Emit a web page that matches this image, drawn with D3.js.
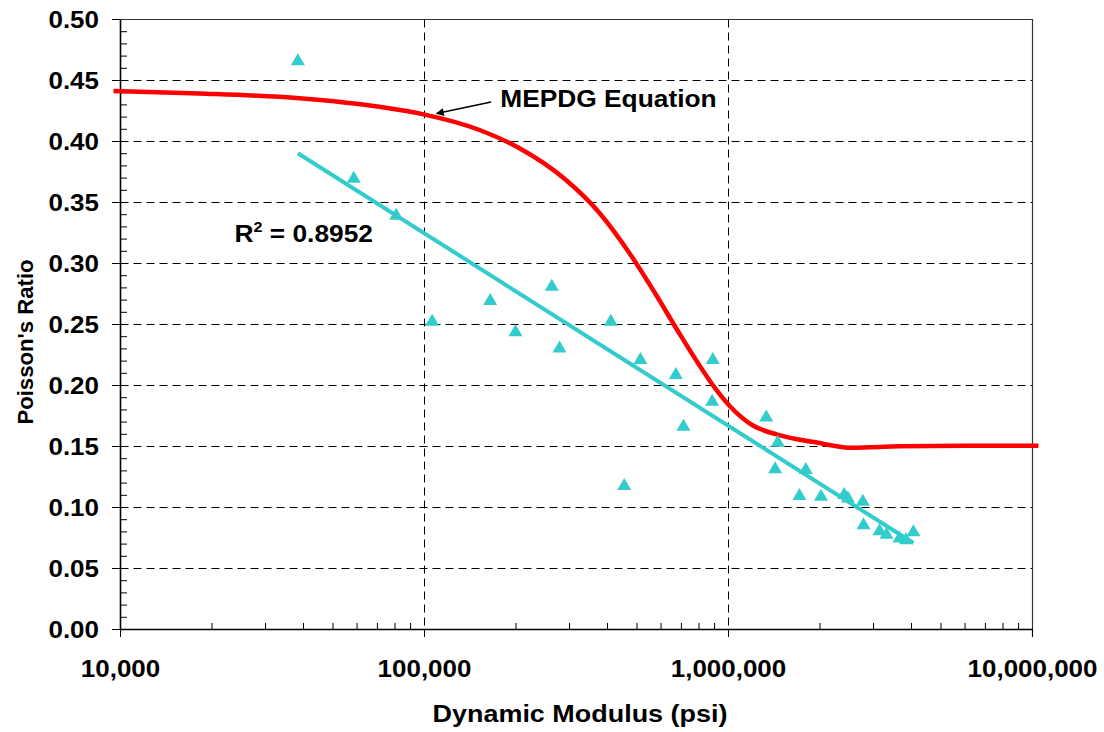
<!DOCTYPE html>
<html>
<head>
<meta charset="utf-8">
<script src="https://cdn.jsdelivr.net/npm/d3@7"></script>
<style>
  body { margin: 0; background: #fff; }
  svg { display: block; }
  text { font-family: "Liberation Sans", Arial, Helvetica, sans-serif; font-weight: bold; fill: #000; }
</style>
</head>
<body>
<svg id="chart" width="1104" height="732"></svg>
<script>
// Measured dynamic modulus (psi) and Poisson's ratio
const measuredModulus = [38460, 58750, 81000, 106400, 165100, 200000, 263300, 279100, 411600, 455700,
  515200, 673500, 714000, 891000, 887000, 1336000, 1458000, 1429000, 1803000, 1718000,
  2023000, 2410000, 2480000, 2776000, 2791000, 3150000, 3322000, 3665000, 3851000, 4074000];
const measuredPoisson = [0.467, 0.3706, 0.3404, 0.2535, 0.2705, 0.2448, 0.2822, 0.2316, 0.2535, 0.1188,
  0.2221, 0.2098, 0.1675, 0.2221, 0.188, 0.1751, 0.1543, 0.1325, 0.132, 0.1107,
  0.1101, 0.1115, 0.1087, 0.106, 0.0867, 0.0818, 0.0789, 0.0759, 0.0744, 0.081];

// MEPDG relationship between modulus and Poisson's ratio
const mepdgModulus = [9520, 18260, 38960, 71400, 98860, 152300, 206200, 289900, 377800, 474300,
  573100, 692600, 806000, 902800, 1011000, 1204000, 1444000, 1940000, 2568000, 3665000,
  6042000, 10500000];
const mepdgPoisson = [0.441, 0.439, 0.435, 0.428, 0.422, 0.409, 0.394, 0.369, 0.341, 0.308,
  0.276, 0.242, 0.216, 0.198, 0.183, 0.167, 0.1595, 0.153, 0.1485, 0.1497,
  0.1502, 0.1502];

// Logarithmic trend line through the measured points
const trendModulus = [38460, 4074000];
const trendPoisson = [0.390, 0.0705];
const rSquared = "0.8952";

// Axis ticks
const xTickValues = [1e4, 1e5, 1e6, 1e7];
const yTickValues = [0, 0.05, 0.10, 0.15, 0.20, 0.25, 0.30, 0.35, 0.40, 0.45, 0.50];

// Annotation anchors in data units [modulus, ratio]
const arrowTail = [166300, 0.432];
const arrowTip = [110000, 0.4225];
const mepdgLabelAt = [178100, 0.428];
const rSquaredLabelAt = [23800, 0.3175];

const svg = d3.select("#chart");
const X0 = 120, X1 = 1032, Y0 = 629, Y1 = 19;
const x = d3.scaleLog().domain([1e4, 1e7]).range([X0, X1]);
const y = d3.scaleLinear().domain([0, 0.5]).range([Y0, Y1]);

const TEAL = "#33CCCC", RED = "#FF0000";

// Dashed grid
const grid = svg.append("g").attr("stroke", "#000").attr("stroke-width", 1)
  .attr("stroke-dasharray", "8,5").attr("fill", "none");
grid.selectAll("line.h").data(yTickValues.filter(v => v > 0 && v < 0.5)).join("line")
  .attr("x1", X0 + 0.5).attr("x2", X1 + 0.5)
  .attr("y1", d => Math.round(y(d)) + 0.5).attr("y2", d => Math.round(y(d)) + 0.5);
grid.selectAll("line.v").data(xTickValues.filter(v => v > 1e4 && v < 1e7)).join("line")
  .attr("y1", Y1 + 0.5).attr("y2", Y0 + 0.5)
  .attr("x1", d => Math.round(x(d)) + 0.5).attr("x2", d => Math.round(x(d)) + 0.5);

// Plot frame (top and right)
svg.append("path")
  .attr("d", `M${X0 + 0.5},${Y1 + 0.5}H${X1 + 0.5}V${Y0 + 0.5}`)
  .attr("fill", "none").attr("stroke", "#333").attr("stroke-width", 1.2);
svg.append("line").attr("x1", X1 + 0.5).attr("x2", X1 + 0.5).attr("y1", Y0).attr("y2", Y0 + 8)
  .attr("stroke", "#333").attr("stroke-width", 1.2);

// Minor ticks (inside)
const yMinor = d3.range(1, 50).map(i => i / 100).filter(v => Math.abs(v * 20 - Math.round(v * 20)) > 1e-6);
svg.append("g").attr("transform", `translate(${X0},0)`)
  .call(d3.axisRight(y).tickValues(yMinor).tickSize(7).tickSizeOuter(0).tickFormat(""))
  .call(g => g.select(".domain").remove())
  .call(g => g.selectAll("line").attr("stroke", "#000"));

const xMinor = [];
[1e4, 1e5, 1e6].forEach(d => { for (let k = 2; k <= 9; k++) xMinor.push(d * k); });
svg.append("g").attr("transform", `translate(0,${Y0})`)
  .call(d3.axisTop(x).tickValues(xMinor).tickSize(6).tickSizeOuter(0).tickFormat(""))
  .call(g => g.select(".domain").remove())
  .call(g => g.selectAll("line").attr("stroke", "#000"));

// Y axis
svg.append("g").attr("transform", `translate(${X0},0)`)
  .call(d3.axisLeft(y).tickValues(yTickValues).tickSize(8).tickSizeOuter(0).tickFormat(d3.format(".2f")))
  .call(g => g.select(".domain").attr("stroke", "#000").attr("stroke-width", 1.6))
  .call(g => g.selectAll("line").attr("stroke", "#000"))
  .call(g => g.selectAll("text")
    .attr("x", null).attr("dy", null)
    .attr("transform", "translate(-21,8.8) scale(1.06,1)")
    .attr("text-anchor", "end")
    .style("font-size", "24.5px"));

// X axis
svg.append("g").attr("transform", `translate(0,${Y0})`)
  .call(d3.axisBottom(x).tickValues(xTickValues).tickSize(8).tickSizeOuter(0).tickFormat(d3.format(",")))
  .call(g => g.select(".domain").attr("stroke", "#000").attr("stroke-width", 1.6))
  .call(g => g.selectAll("line").attr("stroke", "#000"))
  .call(g => g.selectAll("text")
    .attr("y", null).attr("dy", null)
    .attr("transform", "translate(0,48) scale(1.06,1)")
    .attr("text-anchor", "middle")
    .style("font-size", "24.5px"));

// Axis titles
svg.append("text")
  .attr("transform", `translate(${(X0 + X1) / 2 + 4},722) scale(1.1,1)`)
  .attr("text-anchor", "middle").style("font-size", "24.5px")
  .text("Dynamic Modulus (psi)");
svg.append("text")
  .attr("transform", `translate(33,342) rotate(-90) scale(1.03,1)`)
  .attr("text-anchor", "middle").style("font-size", "21.5px")
  .text("Poisson's Ratio");

// MEPDG curve
const line = d3.line().curve(d3.curveMonotoneX);
svg.append("path")
  .attr("d", line(mepdgModulus.map((m, i) => [x(m), y(mepdgPoisson[i])])))
  .attr("fill", "none").attr("stroke", RED).attr("stroke-width", 4.5)
  .attr("stroke-linejoin", "round");

// Trend line
svg.append("path")
  .attr("d", d3.line()(trendModulus.map((m, i) => [x(m), y(trendPoisson[i])])))
  .attr("fill", "none").attr("stroke", TEAL).attr("stroke-width", 4);

// Measured points (triangles)
const tri = "M0,-6L7,6L-7,6Z";
svg.append("g").selectAll("path").data(measuredModulus.map((m, i) => [m, measuredPoisson[i]])).join("path")
  .attr("d", tri)
  .attr("transform", d => `translate(${x(d[0])},${y(d[1])})`)
  .attr("fill", TEAL);

// Annotations
const defs = svg.append("defs");
defs.append("marker").attr("id", "arrowhead")
  .attr("viewBox", "0 0 10 10").attr("refX", 9).attr("refY", 5)
  .attr("markerUnits", "userSpaceOnUse").attr("markerWidth", 11).attr("markerHeight", 8)
  .attr("orient", "auto")
  .append("path").attr("d", "M0,0L10,5L0,10Z").attr("fill", "#000");
svg.append("line")
  .attr("x1", x(arrowTail[0])).attr("y1", y(arrowTail[1]))
  .attr("x2", x(arrowTip[0])).attr("y2", y(arrowTip[1]))
  .attr("stroke", "#000").attr("stroke-width", 1.4).attr("marker-end", "url(#arrowhead)");

svg.append("text")
  .attr("transform", `translate(${x(mepdgLabelAt[0])},${y(mepdgLabelAt[1])}) scale(1.075,1)`)
  .style("font-size", "24.5px")
  .text("MEPDG Equation");

const r2 = svg.append("text")
  .attr("transform", `translate(${x(rSquaredLabelAt[0])},${y(rSquaredLabelAt[1])}) scale(1.075,1)`)
  .style("font-size", "24.5px");
r2.append("tspan").text("R");
r2.append("tspan").attr("dy", -10).style("font-size", "15px").text("2");
r2.append("tspan").attr("dy", 10).text(" = " + rSquared);
</script>
</body>
</html>
